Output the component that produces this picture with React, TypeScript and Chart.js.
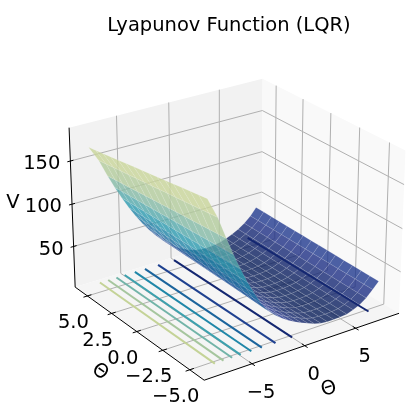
import React, { useEffect, useRef } from "react";
import { Chart, registerables } from "chart.js";

Chart.register(...registerables);

const titleText = "Lyapunov Function (LQR)";
const xTicks = [-5, 0, 5];
const yTicks = [-5, -2.5, 0, 2.5, 5];
const zTicks = [50, 100, 150];
const xTickLabels = ["−5", "0", "5"];
const yTickLabels = ["−5.0", "−2.5", "0.0", "2.5", "5.0"];
const zTickLabels = ["50", "100", "150"];
const xLim = [-9.4, 9.4];
const yLim = [-6.3, 6.3];
const zLim = [1, 188];

const surfaceX = [-8.3, -7.4, -6.62, -5.98, -5.34, -4.7, -4.06, -3.42, -2.78, -2.14, -1.5, -0.86, -0.22, 0.42, 1.06, 1.7, 2.34, 2.98, 3.62, 4.26, 4.9, 5.54, 6.18, 6.82, 7.46, 8.05];
const surfaceVFront = [190, 167, 141.5, 121.4, 103, 86.1, 71, 57.4, 46.5, 39, 33, 28, 23.5, 20, 16.8, 13.6, 11.6, 10.8, 10.8, 11.2, 12, 14.5, 18, 23.5, 31, 38.4];
const surfaceVBack = [167, 149, 128.6, 113, 98.5, 85, 72.7, 61.4, 51.3, 42.2, 34.2, 27.2, 21.4, 16.6, 13, 10.4, 8.9, 8.5, 9, 10.4, 12.7, 15.9, 20, 25.2, 32, 40.5];
const surfaceY = [-5.6, -4.85, -4.1, -3.35, -2.6, -1.85, -1.1, -0.35, 0.35, 1.1, 1.85, 2.6, 3.35, 4.1, 4.85, 5.6];
const contourX = [-7.3, -6.5, -5.7, -4.9, -3.9, -2.9, -1.6, 0, 7.6];
const contourY = [-5.2, 6];
const contourLevel = [160, 140, 120, 100, 80, 60, 40, 20, 20];
const cmapStops = [[8, 29, 88], [33, 50, 140], [28, 85, 150], [26, 125, 165], [45, 155, 175], [100, 175, 170], [160, 195, 160], [195, 210, 150], [205, 215, 155]];

const ELEV = 25, AZIM = -125, DIST = 10, SCALE = 1990, CX = 235, CY = 221;
const BX = 1.1905, BY = 1.1905, BZ = 0.8929;
const rad = Math.PI / 180;
const ce = Math.cos(ELEV * rad), se = Math.sin(ELEV * rad), ca = Math.cos(AZIM * rad), sa = Math.sin(AZIM * rad);

type P = { x: number; y: number; d: number };
function proj(x: number, y: number, z: number): P {
  const px = ((x - xLim[0]) / (xLim[1] - xLim[0]) - 0.5) * BX;
  const py = ((y - yLim[0]) / (yLim[1] - yLim[0]) - 0.5) * BY;
  const pz = ((z - zLim[0]) / (zLim[1] - zLim[0]) - 0.5) * BZ;
  const ux = -sa * px + ca * py;
  const vy = -se * ca * px - se * sa * py + ce * pz;
  const w = ce * ca * px + ce * sa * py + se * pz;
  const k = 1 / (DIST - w);
  return { x: CX + SCALE * ux * k, y: CY - SCALE * vy * k, d: w };
}

function cmap(t: number, a: number) {
  const s = Math.max(0, Math.min(1, t)) * (cmapStops.length - 1);
  const i = Math.min(cmapStops.length - 2, Math.floor(s));
  const f = s - i;
  const c = cmapStops[i].map((v, k) => Math.round(v + (cmapStops[i + 1][k] - v) * f));
  return `rgba(${c[0]},${c[1]},${c[2]},${a})`;
}

function line(pts: P[], color: string, width: number) {
  return { data: pts.map((p) => ({ x: p.x, y: p.y })), showLine: true, borderColor: color, borderWidth: width, pointRadius: 0, fill: false, clip: false, borderCapStyle: "butt" };
}
function poly(pts: P[], color: string, edge = "rgba(0,0,0,0)", w = 0) {
  return { data: [...pts, pts[0]].map((p) => ({ x: p.x, y: p.y })), showLine: true, borderColor: edge, borderWidth: w, backgroundColor: color, pointRadius: 0, fill: "shape", clip: false };
}

function buildDatasets() {
  const [x0, x1] = xLim, [y0, y1] = yLim, [z0, z1] = zLim;
  const out: any[] = [];
  out.push(poly([proj(x0, y1, z0), proj(x1, y1, z0), proj(x1, y1, z1), proj(x0, y1, z1)], "rgb(242,242,242)"));
  out.push(poly([proj(x1, y0, z0), proj(x1, y1, z0), proj(x1, y1, z1), proj(x1, y0, z1)], "rgb(249,249,249)"));
  out.push(poly([proj(x0, y0, z0), proj(x1, y0, z0), proj(x1, y1, z0), proj(x0, y1, z0)], "rgb(245,245,245)"));
  const grid = "rgb(176,176,176)";
  for (const t of xTicks) out.push(line([proj(t, y0, z0), proj(t, y1, z0), proj(t, y1, z1)], grid, 1));
  for (const t of yTicks) out.push(line([proj(x0, t, z0), proj(x1, t, z0), proj(x1, t, z1)], grid, 1));
  for (const t of zTicks) out.push(line([proj(x0, y1, t), proj(x1, y1, t), proj(x1, y0, t)], grid, 1));
  const ax = "rgb(0,0,0)";
  out.push(line([proj(x0, y0, z0), proj(x1, y0, z0)], ax, 1));
  out.push(line([proj(x0, y0, z0), proj(x0, y1, z0)], ax, 1));
  out.push(line([proj(x0, y1, z0), proj(x0, y1, z1)], ax, 1));
  const dxT = (x1 - x0) * 0.02, dyT = (y1 - y0) * 0.02, dxZ = (x1 - x0) * 0.015;
  for (const t of xTicks) out.push(line([proj(t, y0 + dyT, z0), proj(t, y0 - dyT, z0)], ax, 1));
  for (const t of yTicks) out.push(line([proj(x0 + dxT, t, z0), proj(x0 - dxT, t, z0)], ax, 1));
  for (const t of zTicks) out.push(line([proj(x0 + dxZ, y1, t), proj(x0 - dxZ, y1, t)], ax, 1));

  const mid = surfaceVFront.map((v, i) => (v + surfaceVBack[i]) / 2);
  const vMin = Math.min(...mid), vMax = Math.max(...mid);
  const yA = surfaceY[0], yB = surfaceY[surfaceY.length - 1];
  const at = (i: number, j: number) => {
    const f = (surfaceY[j] - yA) / (yB - yA);
    return proj(surfaceX[i], surfaceY[j], surfaceVFront[i] * (1 - f) + surfaceVBack[i] * f);
  };
  const facets: { d: number; pts: P[]; c: string }[] = [];
  for (let i = 0; i < surfaceX.length - 1; i++) {
    for (let j = 0; j < surfaceY.length - 1; j++) {
      const pts = [at(i, j), at(i + 1, j), at(i + 1, j + 1), at(i, j + 1)];
      const m = (mid[i] + mid[i + 1]) / 2;
      facets.push({ d: pts.reduce((s, p) => s + p.d, 0) / 4, pts, c: cmap((m - vMin) / (vMax - vMin), 0.8) });
    }
  }
  facets.sort((a, b) => a.d - b.d);
  for (const f of facets) out.push(poly(f.pts, f.c, "rgba(255,255,255,0.18)", 0.6));
  contourX.forEach((cx, i) => {
    const t = (contourLevel[i] - vMin) / (vMax - vMin);
    out.push(line([proj(cx, contourY[0], z0), proj(cx, contourY[1], z0)], cmap(t, 1), 2));
  });
  return out.reverse();
}

const textPlugin = {
  id: "textPlugin",
  afterDatasetsDraw(chart: any) {
    const ctx = chart.ctx as CanvasRenderingContext2D;
    const [x0] = xLim, [y0, y1] = yLim, [z0] = zLim;
    const put = (s: string, x: number, y: number, size: number, align: CanvasTextAlign = "center", rot = 0) => {
      ctx.save();
      ctx.translate(x, y);
      ctx.rotate((rot * Math.PI) / 180);
      ctx.font = `${size}px "DejaVu Sans"`;
      ctx.fillStyle = "#000";
      ctx.textAlign = align;
      ctx.textBaseline = "middle";
      ctx.fillText(s, 0, 0);
      ctx.restore();
    };
    put(titleText, 229, 26, 19.5);
    xTicks.forEach((t, i) => {
      const p = proj(t, y0, z0);
      put(xTickLabels[i], p.x + 9, p.y + 29, 19.5);
    });
    yTicks.forEach((t, i) => {
      const p = proj(x0, t, z0);
      put(yTickLabels[i], p.x - 14, p.y + 27, 19.5);
    });
    zTicks.forEach((t, i) => {
      const p = proj(x0, y1, t);
      put(zTickLabels[i], p.x - 10, p.y + 3, 19.5, "right");
    });
    put("V", 13, 203, 19.5);
    put("Θ", 329, 389, 19.5, "center", -18);
    put("Θ", 100, 372, 19.5, "center", 35);
  },
};

export default function App() {
  const ref = useRef<HTMLCanvasElement>(null);
  useEffect(() => {
    const chart = new Chart(ref.current as HTMLCanvasElement, {
      type: "scatter",
      data: { datasets: buildDatasets() },
      options: {
        animation: false,
        responsive: false,
        events: [],
        layout: { padding: 0 },
        plugins: { legend: { display: false }, tooltip: { enabled: false }, title: { display: false } },
        scales: {
          x: { type: "linear", min: 0, max: 417, display: false },
          y: { type: "linear", min: 0, max: 417, reverse: true, display: false },
        },
      },
      plugins: [textPlugin],
    } as any);
    return () => chart.destroy();
  }, []);
  return (
    <div style={{ position: "absolute", left: 0, top: 0, width: 417, height: 417 }}>
      <canvas ref={ref} width={417} height={417} style={{ display: "block" }} />
    </div>
  );
}
